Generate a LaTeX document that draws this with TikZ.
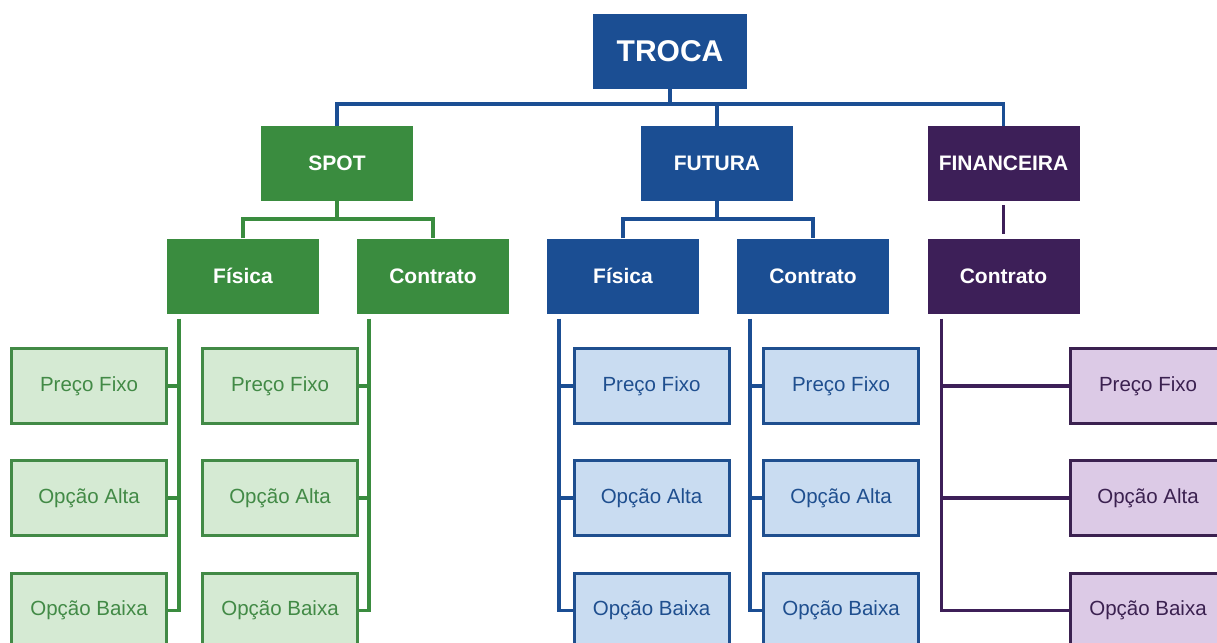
\documentclass[tikz,border=0pt]{standalone}
\usepackage{fontspec}
\setmainfont{Liberation Sans}
\definecolor{gdark}{HTML}{3A8C3F}
\definecolor{glight}{HTML}{D5EAD3}
\definecolor{gtext}{HTML}{428A46}
\definecolor{bdark}{HTML}{1B4E93}
\definecolor{blight}{HTML}{C9DCF1}
\definecolor{btext}{HTML}{1F4F8F}
\definecolor{pdark}{HTML}{3D1F58}
\definecolor{plight}{HTML}{DCCAE6}
\definecolor{ptext}{HTML}{3B2150}
\tikzset{
  topbox/.style={fill=#1, draw=none, minimum width=152pt, minimum height=75pt, text=white, font=\fontsize{21}{25}\selectfont\bfseries, inner sep=0pt},
  leafbox/.style 2 args={fill=#2, draw=#1, line width=3pt, minimum width=155pt, minimum height=75pt, text=#1, font=\fontsize{20.5}{24}\selectfont, inner sep=0pt},
  conn/.style={draw=#1, line width=3.5pt},
}
\begin{document}
\begin{tikzpicture}[x=1pt,y=-1pt]
\useasboundingbox (0,0) rectangle (1217,642);
\clip (0,0) rectangle (1217,642);
% top
\node[topbox=bdark, minimum width=154pt, font=\fontsize{30}{34}\selectfont\bfseries] (troca) at (670,51.5) {TROCA};
% level 1
\node[topbox=gdark] (spot) at (337,163.5) {SPOT};
\node[topbox=bdark] (futura) at (717,163.5) {FUTURA};
\node[topbox=pdark] (fin) at (1003.5,163.5) {FINANCEIRA};
% level 2
\node[topbox=gdark] (gf) at (243,276) {Física};
\node[topbox=gdark] (gc) at (433,276) {Contrato};
\node[topbox=bdark] (bf) at (623,276) {Física};
\node[topbox=bdark] (bc) at (813,276) {Contrato};
\node[topbox=pdark] (pc) at (1003.5,276) {Contrato};
% leaves green
\node[leafbox={gtext}{glight}] (gf1) at (89,386) {Preço Fixo};
\node[leafbox={gtext}{glight}] (gf2) at (89,498) {Opção Alta};
\node[leafbox={gtext}{glight}] (gf3) at (89,610.5) {Opção Baixa};
\node[leafbox={gtext}{glight}] (gc1) at (280,386) {Preço Fixo};
\node[leafbox={gtext}{glight}] (gc2) at (280,498) {Opção Alta};
\node[leafbox={gtext}{glight}] (gc3) at (280,610.5) {Opção Baixa};
% leaves blue
\node[leafbox={btext}{blight}] (bf1) at (651.5,386) {Preço Fixo};
\node[leafbox={btext}{blight}] (bf2) at (651.5,498) {Opção Alta};
\node[leafbox={btext}{blight}] (bf3) at (651.5,610.5) {Opção Baixa};
\node[leafbox={btext}{blight}] (bc1) at (841,386) {Preço Fixo};
\node[leafbox={btext}{blight}] (bc2) at (841,498) {Opção Alta};
\node[leafbox={btext}{blight}] (bc3) at (841,610.5) {Opção Baixa};
% leaves purple
\node[leafbox={ptext}{plight}] (pc1) at (1148,386) {Preço Fixo};
\node[leafbox={ptext}{plight}] (pc2) at (1148,498) {Opção Alta};
\node[leafbox={ptext}{plight}] (pc3) at (1148,610.5) {Opção Baixa};
% connectors level 0-1
\coordinate (bus1) at (670,104);
\draw[conn=bdark] (troca.south) -- (bus1);
\draw[conn=bdark] (spot.north) |- (bus1) -| (fin.north);
\draw[conn=bdark] (futura.north) -- (futura.north |- bus1);
% level 1-2
\coordinate (gbus) at (337,219);
\draw[conn=gdark] (spot.south) -- (gbus);
\draw[conn=gdark] (gf.north) |- (gbus) -| (gc.north);
\coordinate (bbus) at (717,219);
\draw[conn=bdark] (futura.south) -- (bbus);
\draw[conn=bdark] (bf.north) |- (bbus) -| (bc.north);
\draw[conn=pdark] ([yshift=-4pt]fin.south) -- ([yshift=4pt]pc.north);
% spines
\coordinate (gfs) at ([xshift=12pt,yshift=-5pt]gf.south west);
\coordinate (gcs) at ([xshift=12pt,yshift=-5pt]gc.south west);
\coordinate (bfs) at ([xshift=12pt,yshift=-5pt]bf.south west);
\coordinate (bcs) at ([xshift=13pt,yshift=-5pt]bc.south west);
\coordinate (pcs) at ([xshift=14pt,yshift=-5pt]pc.south west);
\draw[conn=gdark] (gfs) |- (gf3.east);
\draw[conn=gdark] (gfs |- gf1.east) -- (gf1.east);
\draw[conn=gdark] (gfs |- gf2.east) -- (gf2.east);
\draw[conn=gdark] (gcs) |- (gc3.east);
\draw[conn=gdark] (gcs |- gc1.east) -- (gc1.east);
\draw[conn=gdark] (gcs |- gc2.east) -- (gc2.east);
\draw[conn=bdark] (bfs) |- (bf3.west);
\draw[conn=bdark] (bfs |- bf1.west) -- (bf1.west);
\draw[conn=bdark] (bfs |- bf2.west) -- (bf2.west);
\draw[conn=bdark] (bcs) |- (bc3.west);
\draw[conn=bdark] (bcs |- bc1.west) -- (bc1.west);
\draw[conn=bdark] (bcs |- bc2.west) -- (bc2.west);
\draw[conn=pdark] (pcs) |- (pc3.west);
\draw[conn=pdark] (pcs |- pc1.west) -- (pc1.west);
\draw[conn=pdark] (pcs |- pc2.west) -- (pc2.west);
\end{tikzpicture}
\end{document}
